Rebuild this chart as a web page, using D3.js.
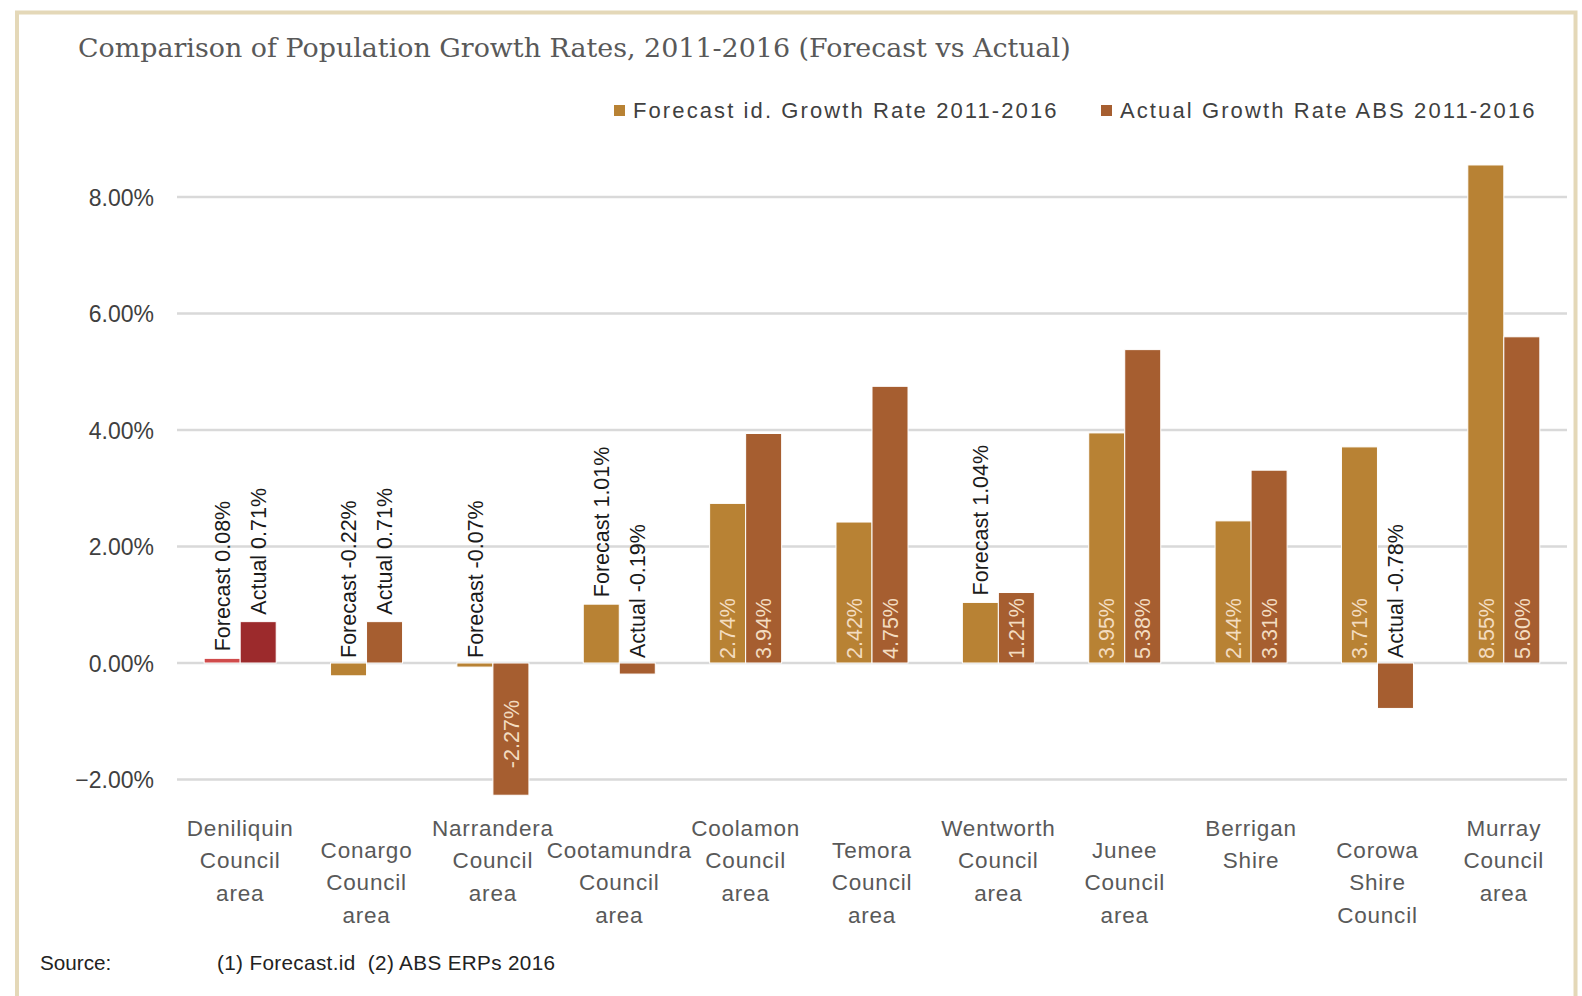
<!DOCTYPE html>
<html>
<head>
<meta charset="utf-8">
<script src="https://cdn.jsdelivr.net/npm/d3@7"></script>
<style>
  html, body { margin: 0; padding: 0; background: #ffffff; }
  svg { display: block; }
</style>
</head>
<body>
<svg id="chart" width="1582" height="996"></svg>
<script>
// ---- data ----
const categories = [
  "Deniliquin Council area", "Conargo Council area", "Narrandera Council area",
  "Cootamundra Council area", "Coolamon Council area", "Temora Council area",
  "Wentworth Council area", "Junee Council area", "Berrigan Shire",
  "Corowa Shire Council", "Murray Council area"
];
const seriesNames = ["Forecast id. Growth Rate 2011-2016", "Actual Growth Rate ABS 2011-2016"];
const forecastValues = [0.08, -0.22, -0.07, 1.01, 2.74, 2.42, 1.04, 3.95, 2.44, 3.71, 8.55];
const actualValues   = [0.71, 0.71, -2.27, -0.19, 3.94, 4.75, 1.21, 5.38, 3.31, -0.78, 5.60];
const forecastLabels = ["Forecast 0.08%", "Forecast -0.22%", "Forecast -0.07%", "Forecast 1.01%",
  "2.74%", "2.42%", "Forecast 1.04%", "3.95%", "2.44%", "3.71%", "8.55%"];
const actualLabels = ["Actual 0.71%", "Actual 0.71%", "-2.27%", "Actual -0.19%",
  "3.94%", "4.75%", "1.21%", "5.38%", "3.31%", "Actual -0.78%", "5.60%"];
const yTicks = [-2, 0, 2, 4, 6, 8];
const titleText = "Comparison of Population Growth Rates, 2011-2016 (Forecast vs Actual)";
const sourceLabel = "Source:";
const sourceText = "(1) Forecast.id  (2) ABS ERPs 2016";

// ---- styles ----
const colors = ["#b88234", "#a65e30"];
const highlightColors = ["#d04b4b", "#9c2a2c"]; // first category drawn in red tones
const sans = "'Liberation Sans', Arial, sans-serif";

const svg = d3.select("#chart");

// frame
svg.append("rect")
  .attr("x", 17).attr("y", 12.5).attr("width", 1558.5).attr("height", 1000)
  .attr("fill", "none").attr("stroke", "#e4d8b8").attr("stroke-width", 4);

// title
svg.append("text")
  .attr("x", 78).attr("y", 57)
  .attr("font-family", "'DejaVu Serif', serif")
  .attr("font-size", 26.9)
  .attr("fill", "#595959")
  .text(titleText);

// scales
const x = d3.scaleBand().domain(categories).range([177, 1567]).paddingInner(0.43).paddingOuter(0.215);
const xs = d3.scaleBand().domain([0, 1]).range([0, x.bandwidth()]);
const y = d3.scaleLinear().domain([-2, 8]).range([779.5, 197]);

// gridlines
svg.append("g").selectAll("line").data(yTicks).join("line")
  .attr("x1", 177).attr("x2", 1567)
  .attr("y1", d => y(d)).attr("y2", d => y(d))
  .attr("stroke", "#d9d9d9").attr("stroke-width", 2.5);

// y axis labels via d3 axis
const yAxis = d3.axisLeft(y).tickValues(yTicks).tickFormat(d => d3.format(".2f")(d) + "%").tickSize(0).tickPadding(0);
const yg = svg.append("g").attr("transform", "translate(154,0)").call(yAxis);
yg.select(".domain").remove();
yg.selectAll("text")
  .attr("font-family", sans).attr("font-size", 23).attr("fill", "#404040")
  .attr("dy", "0.36em");

// bars
const rows = categories.map((c, i) => ({
  cat: c, i,
  vals: [forecastValues[i], actualValues[i]],
  labels: [forecastLabels[i], actualLabels[i]]
}));
const bars = [];
rows.forEach(r => r.vals.forEach((v, s) => bars.push({cat: r.cat, i: r.i, s, v, label: r.labels[s]})));

svg.append("g").selectAll("rect").data(bars).join("rect")
  .attr("x", d => x(d.cat) + xs(d.s))
  .attr("width", xs.bandwidth())
  .attr("y", d => Math.min(y(d.v), y(0)))
  .attr("height", d => Math.abs(y(d.v) - y(0)))
  .attr("fill", d => d.i === 0 ? highlightColors[d.s] : colors[d.s])
  .attr("stroke", "#ffffff").attr("stroke-width", 1);

// data labels
const lg = svg.append("g");
bars.forEach(d => {
  const cx = x(d.cat) + xs(d.s) + xs.bandwidth() / 2;
  const outside = d.label.indexOf(" ") >= 0;
  let ay, anchor, fill;
  if (outside) {
    ay = d.v > 0 ? y(d.v) - 7 : y(0) - 5;
    anchor = "start"; fill = "#1a1a1a";
  } else if (d.v >= 0) {
    ay = y(0) - 4; anchor = "start"; fill = "#f3dcc0";
  } else {
    ay = y(0) + 37; anchor = "end"; fill = "#f3dcc0";
  }
  lg.append("text")
    .attr("transform", `translate(${cx},${ay}) rotate(-90)`)
    .attr("text-anchor", anchor)
    .attr("dy", "0.36em")
    .attr("font-family", sans).attr("font-size", 21.5)
    .attr("fill", fill)
    .text(d.label);
});

// x labels (wrapped, staggered)
const xg = svg.append("g");
categories.forEach((c, i) => {
  const t = xg.append("text")
    .attr("text-anchor", "middle")
    .attr("font-family", sans).attr("font-size", 22.5)
    .attr("letter-spacing", 0.8)
    .attr("fill", "#595959");
  const top = 836 + (i % 2 ? 22 : 0);
  c.split(" ").forEach((w, k) => {
    t.append("tspan").attr("x", x(c) + x.bandwidth() / 2).attr("y", top + k * 32.3).text(w);
  });
});

// legend
const legX = [614, 1101];
seriesNames.forEach((n, s) => {
  svg.append("rect").attr("x", legX[s]).attr("y", 105).attr("width", 11).attr("height", 11).attr("fill", colors[s]);
  svg.append("text").attr("x", legX[s] + 19).attr("y", 110.5).attr("dy", "0.36em")
    .attr("font-family", sans).attr("font-size", 22).attr("letter-spacing", 2.1)
    .attr("fill", "#404040").text(n);
});

// source
svg.append("text").attr("x", 40).attr("y", 963).attr("dy", "0.36em")
  .attr("font-family", sans).attr("font-size", 20.7).attr("fill", "#222").text(sourceLabel);
svg.append("text").attr("x", 217).attr("y", 963).attr("dy", "0.36em")
  .attr("font-family", sans).attr("font-size", 20.7).attr("letter-spacing", 0.35)
  .attr("xml:space", "preserve").style("white-space", "pre")
  .attr("fill", "#222").text(sourceText);
</script>
</body>
</html>
